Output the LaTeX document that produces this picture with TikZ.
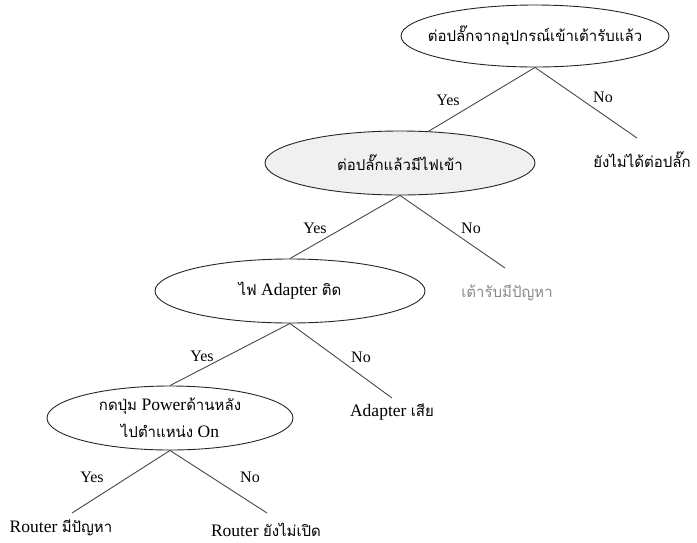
\documentclass[tikz,border=0pt]{standalone}
\usepackage{fontspec}
\setmainfont{Liberation Serif}
\newfontfamily\thai[Script=Thai]{Loma}
\usetikzlibrary{shapes.geometric}
\definecolor{linecol}{HTML}{474747}
\definecolor{fillgray}{HTML}{F0F0F0}
\definecolor{leafgray}{HTML}{8A8A8A}
\newcommand{\T}[1]{{\thai\fontsize{15}{27}\selectfont #1}}
\tikzset{
  decision/.style={ellipse, draw=black!85, line width=0.9pt, inner xsep=-40pt, inner ysep=-8pt, align=center, font=\fontsize{17.5}{27}\selectfont},
  leaf/.style={inner sep=0pt, font=\fontsize{17.5}{20}\selectfont},
  lbl/.style={inner sep=0pt, font=\fontsize{16}{18}\selectfont},
  conn/.style={draw=linecol, line width=0.9pt}
}
\begin{document}
\begin{tikzpicture}[x=1pt,y=-1pt]
\useasboundingbox (0,0) rectangle (697,542);
% decision ellipses
\node[decision, minimum width=268pt, minimum height=62pt] (e1) at (535,36) {\T{ต่อปลั๊กจากอุปกรณ์เข้าเต้ารับแล้ว}};
\node[decision, fill=fillgray, minimum width=270pt, minimum height=64pt] (e2) at (400,163) {\T{ต่อปลั๊กแล้วมีไฟเข้า}};
\node[decision, minimum width=270pt, minimum height=64pt] (e3) at (290,291) {\T{ไฟ} Adapter \T{ติด}};
\node[decision, minimum width=246pt, minimum height=64pt] (e4) at (170,418) {\T{กดปุ่ม} Power\T{ด้านหลัง}\\ \T{ไปตำแหน่ง} On};
% leaves
\node[leaf] (l1) at (642,160) {\T{ยังไม่ได้ต่อปลั๊ก}};
\node[leaf, text=leafgray] (l2) at (507,293) {\T{เต้ารับมีปัญหา}};
\node[leaf] (l3) at (392,412) {Adapter \T{เสีย}};
\node[leaf] (l4) at (61,528) {Router \T{มีปัญหา}};
\node[leaf] (l5) at (266,530) {Router \T{ยังไม่เปิด}};
% free ends of connectors above leaves
\coordinate (c1) at (637,138);
\coordinate (c2) at (505,268);
\coordinate (c3) at (392,398);
\coordinate (c4) at (72,513);
\coordinate (c5) at (267,513);
% connectors
\draw[conn] (e1.south) -- (e2.48);
\draw[conn] (e1.south) -- (c1);
\draw[conn] (e2.south) -- (e3.north);
\draw[conn] (e2.south) -- (c2);
\draw[conn] (e3.south) -- (e4.north);
\draw[conn] (e3.south) -- (c3);
\draw[conn] (e4.south) -- (c4);
\draw[conn] (e4.south) -- (c5);
% labels
\node[lbl] (y1) at (448,100) {Yes};
\node[lbl] (n1) at (603,97) {No};
\node[lbl] (y2) at (315,228) {Yes};
\node[lbl] (n2) at (471,228) {No};
\node[lbl] (y3) at (202,356) {Yes};
\node[lbl] (n3) at (361,357) {No};
\node[lbl] (y4) at (92,477) {Yes};
\node[lbl] (n4) at (250,477) {No};
\end{tikzpicture}
\end{document}
